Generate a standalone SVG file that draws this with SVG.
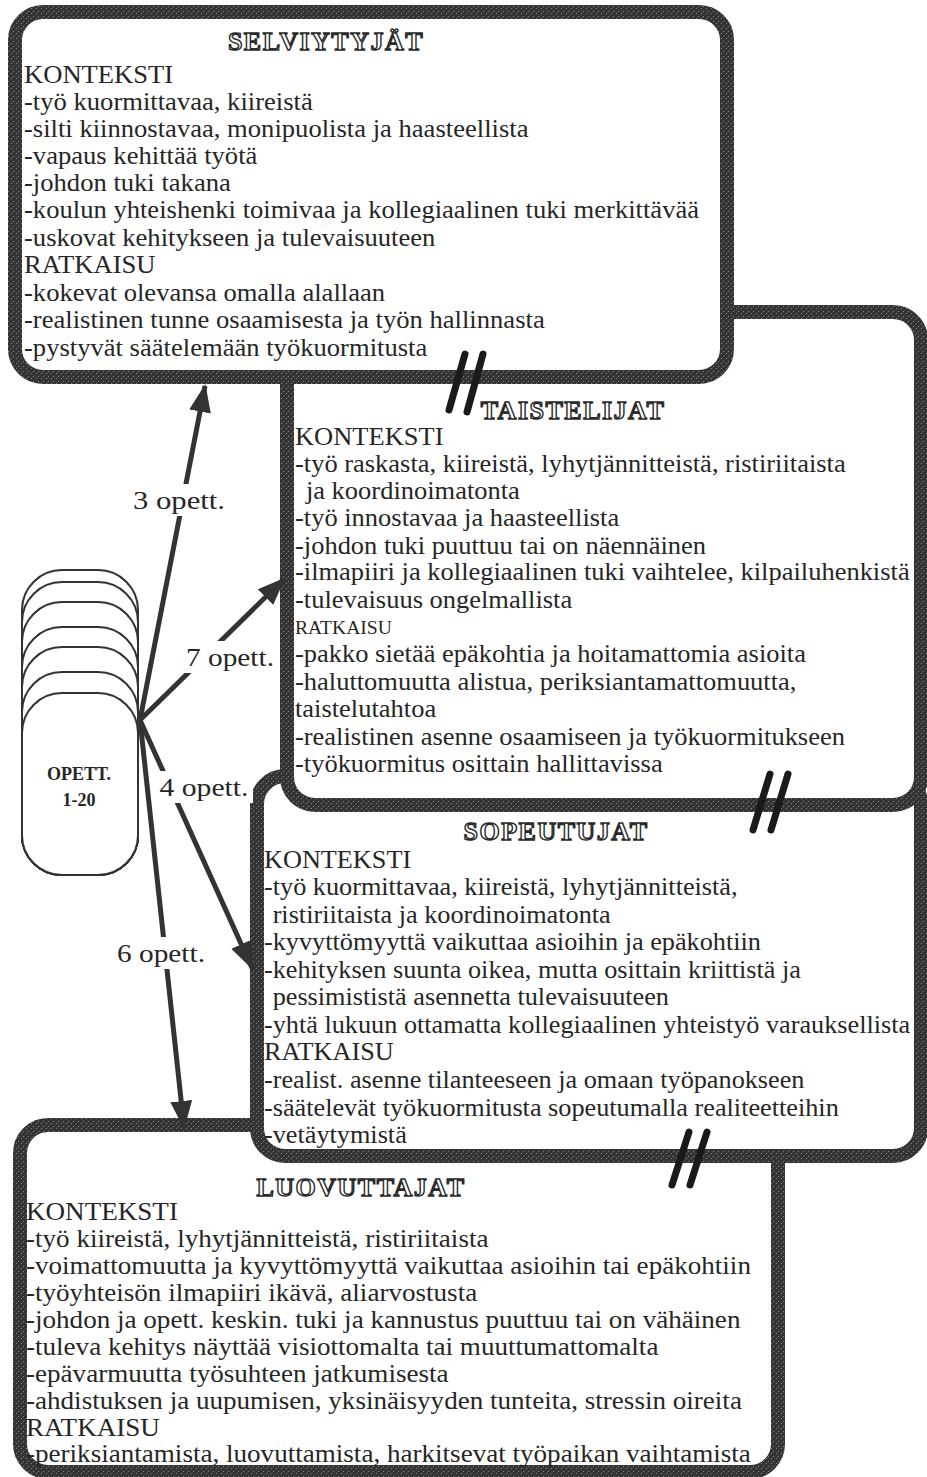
<svg xmlns="http://www.w3.org/2000/svg" width="927" height="1477" viewBox="0 0 927 1477">
<defs>
<pattern id="hatch" patternUnits="userSpaceOnUse" width="5" height="5">
<rect width="5" height="5" fill="#333"/>
<path d="M-1,6 L6,-1" stroke="#a8a8a8" stroke-width="0.7" stroke-dasharray="1.6,1.2"/>
</pattern>
<marker id="ah" markerUnits="userSpaceOnUse" markerWidth="30" markerHeight="24" refX="26" refY="11" orient="auto">
<path d="M0,0 L28,11 L0,22 Z" fill="#333"/>
</marker>
<style>
.box{fill:#fff;stroke:url(#hatch);stroke-width:14}
.t{font-family:"Liberation Serif","Times New Roman",serif;font-size:24.3px;fill:#262626}
.ts{font-family:"Liberation Serif","Times New Roman",serif;font-size:18px;fill:#262626}
.title{font-family:"Liberation Serif","Times New Roman",serif;font-size:26px;font-weight:bold;fill:#fff;stroke:#2a2a2a;stroke-width:1.4;letter-spacing:1.5px;text-anchor:middle}
.card{fill:#fff;stroke:#333;stroke-width:2}
.lbl{font-family:"Liberation Serif","Times New Roman",serif;font-size:26px;fill:#262626;text-anchor:middle}
.conn{stroke:#333;stroke-width:5;fill:none}
.brk{stroke:#1a1a1a;stroke-width:7;stroke-linecap:round}
</style>
</defs>

<g id="luovuttajat">
<rect class="box" x="20" y="1125" width="758" height="347" rx="28"/>
<text class="title" x="361" y="1196">LUOVUTTAJAT</text>
<g transform="matrix(1.115,0,0,1,-2.99,0)">
<text class="t" x="26" y="1220">KONTEKSTI</text>
<text class="t" x="26" y="1247">-työ kiireistä, lyhytjännitteistä, ristiriitaista</text>
<text class="t" x="26" y="1274">-voimattomuutta ja kyvyttömyyttä vaikuttaa asioihin tai epäkohtiin</text>
<text class="t" x="26" y="1301">-työyhteisön ilmapiiri ikävä, aliarvostusta</text>
<text class="t" x="26" y="1328">-johdon ja opett. keskin. tuki ja kannustus puuttuu tai on vähäinen</text>
<text class="t" x="26" y="1355">-tuleva kehitys näyttää visiottomalta tai muuttumattomalta</text>
<text class="t" x="26" y="1382">-epävarmuutta työsuhteen jatkumisesta</text>
<text class="t" x="26" y="1409">-ahdistuksen ja uupumisen, yksinäisyyden tunteita, stressin oireita</text>
<text class="t" x="26" y="1436">RATKAISU</text>
<text class="t" x="26" y="1462">-periksiantamista, luovuttamista, harkitsevat työpaikan vaihtamista</text>
</g>
</g>

<g id="sopeutujat">
<rect class="box" x="257" y="776" width="664" height="380" rx="28"/>
<text class="title" x="556" y="840">SOPEUTUJAT</text>
<g transform="matrix(1.08,0,0,1,-21.12,0)">
<text class="t" x="264" y="868">KONTEKSTI</text>
<text class="t" x="264" y="895">-työ kuormittavaa, kiireistä, lyhytjännitteistä,</text>
<text class="t" x="272" y="923">ristiriitaista ja koordinoimatonta</text>
<text class="t" x="264" y="950">-kyvyttömyyttä vaikuttaa asioihin ja epäkohtiin</text>
<text class="t" x="264" y="978">-kehityksen suunta oikea, mutta osittain kriittistä ja</text>
<text class="t" x="272" y="1005">pessimististä asennetta tulevaisuuteen</text>
<text class="t" x="264" y="1033">-yhtä lukuun ottamatta kollegiaalinen yhteistyö varauksellista</text>
<text class="t" x="264" y="1060">RATKAISU</text>
<text class="t" x="264" y="1088">-realist. asenne tilanteeseen ja omaan työpanokseen</text>
<text class="t" x="264" y="1116">-säätelevät työkuormitusta sopeutumalla realiteetteihin</text>
<text class="t" x="264" y="1143">-vetäytymistä</text>
</g>
</g>

<g id="taistelijat">
<rect class="box" x="287" y="312" width="634" height="493" rx="28"/>
<text class="title" x="573" y="419">TAISTELIJAT</text>
<g transform="matrix(1.09,0,0,1,-26.55,0)">
<text class="t" x="295" y="445">KONTEKSTI</text>
<text class="t" x="295" y="472">-työ raskasta, kiireistä, lyhytjännitteistä, ristiriitaista</text>
<text class="t" x="305" y="499">ja koordinoimatonta</text>
<text class="t" x="295" y="526">-työ innostavaa ja haasteellista</text>
<text class="t" x="295" y="554">-johdon tuki puuttuu tai on näennäinen</text>
<text class="t" x="295" y="580">-ilmapiiri ja kollegiaalinen tuki vaihtelee, kilpailuhenkistä</text>
<text class="t" x="295" y="608">-tulevaisuus ongelmallista</text>
<text class="ts" x="295" y="634">RATKAISU</text>
<text class="t" x="295" y="662">-pakko sietää epäkohtia ja hoitamattomia asioita</text>
<text class="t" x="295" y="690">-haluttomuutta alistua, periksiantamattomuutta,</text>
<text class="t" x="295" y="717">taistelutahtoa</text>
<text class="t" x="295" y="745">-realistinen asenne osaamiseen ja työkuormitukseen</text>
<text class="t" x="295" y="772">-työkuormitus osittain hallittavissa</text>
</g>
</g>

<g id="selviytyjat">
<rect class="box" x="15" y="12" width="712" height="365" rx="28"/>
<text class="title" x="326" y="50">SELVIYTYJÄT</text>
<g transform="matrix(1.095,0,0,1,-2.28,0)">
<text class="t" x="24" y="83">KONTEKSTI</text>
<text class="t" x="24" y="110">-työ kuormittavaa, kiireistä</text>
<text class="t" x="24" y="137">-silti kiinnostavaa, monipuolista ja haasteellista</text>
<text class="t" x="24" y="164">-vapaus kehittää työtä</text>
<text class="t" x="24" y="191">-johdon tuki takana</text>
<text class="t" x="24" y="218">-koulun yhteishenki toimivaa ja kollegiaalinen tuki merkittävää</text>
<text class="t" x="24" y="246">-uskovat kehitykseen ja tulevaisuuteen</text>
<text class="t" x="24" y="273">RATKAISU</text>
<text class="t" x="24" y="301">-kokevat olevansa omalla alallaan</text>
<text class="t" x="24" y="328">-realistinen tunne osaamisesta ja työn hallinnasta</text>
<text class="t" x="24" y="356">-pystyvät säätelemään työkuormitusta</text>
</g>
</g>

<g id="breaks">
<line class="brk" x1="465" y1="354" x2="449" y2="410"/>
<line class="brk" x1="483" y1="354" x2="467" y2="412"/>
<line class="brk" x1="770" y1="774" x2="753" y2="830"/>
<line class="brk" x1="788" y1="774" x2="771" y2="830"/>
<line class="brk" x1="689" y1="1132" x2="672" y2="1185"/>
<line class="brk" x1="707" y1="1132" x2="690" y2="1185"/>
</g>

<g id="opett">
<rect class="card" x="22" y="570" width="116" height="305" rx="40"/>
<rect class="card" x="22" y="582" width="116" height="293" rx="40"/>
<rect class="card" x="22" y="602" width="116" height="273" rx="40"/>
<rect class="card" x="22" y="627" width="116" height="248" rx="40"/>
<rect class="card" x="22" y="647" width="116" height="228" rx="40"/>
<rect class="card" x="22" y="672" width="116" height="203" rx="40"/>
<rect class="card" x="22" y="693" width="116" height="182" rx="40"/>
<text x="79" y="780" text-anchor="middle" font-family="Liberation Serif, serif" font-weight="bold" font-size="18" fill="#262626">OPETT.</text>
<text x="79" y="806" text-anchor="middle" font-family="Liberation Serif, serif" font-weight="bold" font-size="18" fill="#262626">1-20</text>
</g>

<g id="connectors">
<line class="conn" x1="140" y1="720" x2="205" y2="386" marker-end="url(#ah)"/>
<line class="conn" x1="140" y1="720" x2="284" y2="579" marker-end="url(#ah)"/>
<line class="conn" x1="140" y1="720" x2="252" y2="968" marker-end="url(#ah)"/>
<line class="conn" x1="140" y1="720" x2="184" y2="1127" marker-end="url(#ah)"/>
<rect x="129" y="484" width="100" height="32" fill="#fff"/>
<text class="lbl" x="179" y="509" textLength="92" lengthAdjust="spacingAndGlyphs">3 opett.</text>
<rect x="183" y="641" width="96" height="32" fill="#fff"/>
<text class="lbl" x="230" y="666" textLength="88" lengthAdjust="spacingAndGlyphs">7 opett.</text>
<rect x="156" y="771" width="97" height="32" fill="#fff"/>
<text class="lbl" x="204" y="796" textLength="89" lengthAdjust="spacingAndGlyphs">4 opett.</text>
<rect x="113" y="937" width="96" height="32" fill="#fff"/>
<text class="lbl" x="161" y="962" textLength="88" lengthAdjust="spacingAndGlyphs">6 opett.</text>
</g>
</svg>
